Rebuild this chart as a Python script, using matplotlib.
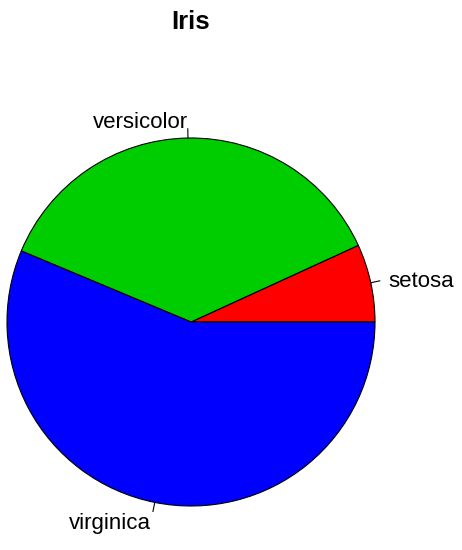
import numpy as np
import matplotlib.pyplot as plt

plt.rcParams['font.family'] = ['Liberation Sans', 'DejaVu Sans']

# sums of Petal.Width per species
species = ["setosa", "versicolor", "virginica"]
petal_width_sum = [12.3, 66.3, 101.3]
colors = ["#FF0000", "#00CD00", "#0000FF"]

fig = plt.figure(figsize=(4.62, 5.50), dpi=100)
ax = fig.add_axes([0, 0, 1, 1])

cx, cy, r = 191, 228, 184
ax.pie(petal_width_sum, colors=colors, startangle=0, counterclock=True,
       center=(cx, cy), radius=r,
       wedgeprops=dict(edgecolor="black", linewidth=0.8))

# labels like R's pie(): tick from r to 1.05r, text at 1.1r
frac = np.cumsum([0] + petal_width_sum) / sum(petal_width_sum)
for i, name in enumerate(species):
    ang = np.pi * (frac[i] + frac[i + 1])
    c, s = np.cos(ang), np.sin(ang)
    ax.plot([cx + r * c, cx + 1.05 * r * c], [cy + r * s, cy + 1.05 * r * s],
            color="black", linewidth=0.8)
    ax.text(cx + 1.1 * r * c, cy + 1.1 * r * s - 3, name, fontsize=16,
            ha="left" if c > 0 else "right", va="center")

ax.text(191, 528, "Iris", fontsize=18.5, fontweight="bold", ha="center", va="center")

ax.set_xlim(0, 462)
ax.set_ylim(0, 550)
ax.set_aspect("equal")
ax.axis("off")

fig.savefig("out.png", dpi=100)
